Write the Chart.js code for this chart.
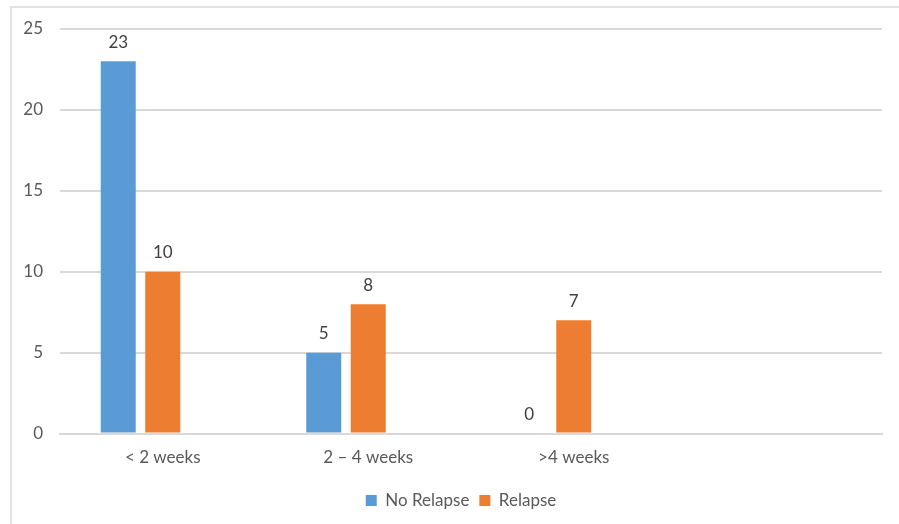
<!DOCTYPE html>
<html>
<head>
<meta charset="utf-8">
<script src="https://cdn.jsdelivr.net/npm/chart.js@4/dist/chart.umd.min.js"></script>
<style>
  html, body { margin: 0; padding: 0; background: #fff; }
  #wrap { position: relative; width: 899px; height: 524px; overflow: hidden; }
  #frame { position: absolute; left: 10px; top: 6px; width: 900px; height: 530px;
           border-left: 2px solid #e2e2e2; border-top: 2px solid #e2e2e2; box-sizing: border-box; }
  canvas { position: absolute; left: 0; top: 0; }
</style>
</head>
<body>
<div id="wrap">
  <div id="frame"></div>
  <canvas id="chart" width="899" height="524"></canvas>
</div>
<script>
// Relapse counts by time interval
const categories = ['< 2 weeks', '2 – 4 weeks', '>4 weeks', ''];
const noRelapse = [23, 5, 0, null];
const relapse = [10, 8, 7, null];
const unusedSeries = [null, null, null, null];
const yTicks = [0, 5, 10, 15, 20, 25];

const FONT = 'Lato';
const TEXT = '#595959';
const SIZE = 17;

// Writes each bar's value above it
const valueLabels = {
  id: 'valueLabels',
  afterDatasetsDraw(chart) {
    const ctx = chart.ctx;
    ctx.save();
    ctx.font = SIZE + 'px ' + FONT;
    ctx.fillStyle = '#404040';
    ctx.textAlign = 'center';
    ctx.textBaseline = 'middle';
    chart.data.datasets.forEach((ds, i) => {
      if (!ds.showValues) return;
      chart.getDatasetMeta(i).data.forEach((bar, j) => {
        const v = ds.data[j];
        if (v === null || v === undefined) return;
        ctx.fillText(String(v), bar.x, bar.y - 19);
      });
    });
    ctx.restore();
  }
};

// Centres the legend under the plot rather than the whole canvas
const legendShift = {
  id: 'legendShift',
  afterLayout(chart) {
    const lg = chart.legend;
    if (!lg) return;
    const dx = 15;
    lg.left += dx; lg.right += dx;
  }
};

new Chart(document.getElementById('chart'), {
  type: 'bar',
  data: {
    labels: categories,
    datasets: [
      { label: 'No Relapse', data: noRelapse, backgroundColor: '#5B9BD5', showValues: true },
      { label: 'Relapse', data: relapse, backgroundColor: '#ED7D31', showValues: true },
      { label: 'Series 3', data: unusedSeries, backgroundColor: '#A5A5A5', showValues: false }
    ]
  },
  options: {
    responsive: false,
    animation: false,
    devicePixelRatio: 1,
    layout: { padding: { left: 10, right: 17, top: 29, bottom: 5 } },
    datasets: { bar: { categoryPercentage: 0.6496, barPercentage: 0.7865 } },
    scales: {
      x: {
        grid: { display: false, drawTicks: false },
        border: { display: true, color: '#d9d9d9', width: 2 },
        ticks: { color: TEXT, font: { family: FONT, size: SIZE }, padding: 14, maxRotation: 0 }
      },
      y: {
        min: 0, max: 25,
        afterBuildTicks(scale) { scale.ticks = yTicks.map(v => ({ value: v })); },
        afterFit(scale) { scale.width = 50; },
        grid: { color: '#d9d9d9', lineWidth: 2, drawTicks: false },
        border: { display: false },
        ticks: { color: TEXT, font: { family: FONT, size: SIZE }, padding: 17 }
      }
    },
    plugins: {
      legend: {
        position: 'bottom',
        labels: {
          color: TEXT,
          font: { family: FONT, size: SIZE },
          boxWidth: 11, boxHeight: 11,
          padding: 10,
          filter: item => item.datasetIndex < 2
        }
      },
      tooltip: { enabled: false }
    }
  },
  plugins: [valueLabels, legendShift]
});
</script>
</body>
</html>
